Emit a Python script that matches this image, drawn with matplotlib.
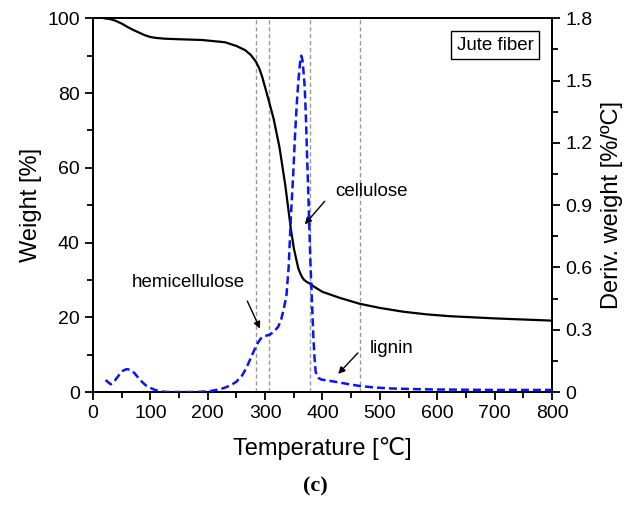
import numpy as np
import matplotlib
matplotlib.use('Agg')
import matplotlib.pyplot as plt
from matplotlib.ticker import MultipleLocator

plt.rcParams['font.family'] = ['Liberation Sans', 'DejaVu Sans']

#%% TGA data for jute fiber
temp_tg = [20, 30, 40, 50, 60, 70, 80, 90, 100, 110, 125, 150, 190, 230, 250,
           265, 275, 284, 290, 295, 300, 306, 315, 325, 335, 345, 350, 355, 358,
           362, 365, 368, 372, 378, 385, 400, 430, 465, 500, 540, 580, 620, 660,
           700, 750, 800]
weight = [100, 99.8, 99.3, 98.6, 97.7, 96.9, 96.2, 95.5, 95.0, 94.75, 94.55,
          94.4, 94.2, 93.6, 92.6, 91.5, 90.2, 88.4, 86.5, 84.3, 81.5, 78.2, 73.0,
          65.5, 55.5, 43.5, 38.5, 35.0, 33.0, 31.5, 30.6, 30.0, 29.5, 29.0, 28.2,
          26.8, 25.2, 23.6, 22.5, 21.5, 20.8, 20.3, 20.0, 19.7, 19.4, 19.1]

temp_dtg = [22, 26, 31, 38, 45, 52, 58, 64, 72, 82, 92, 100, 108, 118, 130, 150,
            180, 204, 215, 227, 240, 250, 260, 268, 276, 285, 290, 294, 300, 308,
            315, 323, 328, 332, 337, 341, 345, 349, 352, 355, 358, 361, 363, 365,
            367, 369, 371, 373, 375, 377, 379, 381, 384, 386, 388, 390, 393, 398,
            410, 425, 445, 465, 490, 520, 560, 600, 650, 700, 750, 800]
deriv = [0.058, 0.048, 0.037, 0.055, 0.08, 0.102, 0.11, 0.108, 0.092, 0.058,
         0.032, 0.02, 0.01, 0.003, 0.0, 0.0, 0.0, 0.004, 0.01, 0.018, 0.032, 0.05,
         0.08, 0.12, 0.17, 0.226, 0.248, 0.263, 0.27, 0.276, 0.29, 0.315, 0.35,
         0.395, 0.46, 0.6, 0.85, 1.05, 1.23, 1.38, 1.5, 1.59, 1.62, 1.6, 1.54,
         1.47, 1.33, 1.15, 0.98, 0.8, 0.62, 0.48, 0.27, 0.17, 0.1, 0.078, 0.068,
         0.06, 0.055, 0.048, 0.038, 0.029, 0.022, 0.017, 0.014, 0.012, 0.011,
         0.01, 0.01, 0.01]

# decomposition stage boundaries
stage_temps = [284, 306, 378, 466]

#%% Plot
fig = plt.figure(figsize=(6.3, 5.19), dpi=100)
ax = fig.add_axes([0.1476, 0.2447, 0.7286, 0.72])
ax2 = ax.twinx()

for t in stage_temps:
    ax.axvline(t, color='#999999', lw=1.0, ls=(0, (3, 2)), zorder=1)

ax.plot(temp_tg, weight, color='black', lw=1.6, zorder=3)
ax2.plot(temp_dtg, deriv, color='#0a14f5', lw=1.8, ls=(0, (3.2, 1.6)), zorder=3)

ax.set_xlim(0, 800)
ax.set_ylim(0, 100)
ax2.set_ylim(0, 1.8)

ax.xaxis.set_major_locator(MultipleLocator(100))
ax.xaxis.set_minor_locator(MultipleLocator(50))
ax.yaxis.set_major_locator(MultipleLocator(20))
ax.yaxis.set_minor_locator(MultipleLocator(10))
ax2.yaxis.set_minor_locator(MultipleLocator(0.15))
ax2.set_yticks(np.arange(0, 1.81, 0.3))
ax2.set_yticklabels(['0', '0.3', '0.6', '0.9', '1.2', '1.5', '1.8'])

for a in (ax, ax2):
    for s in a.spines.values():
        s.set_linewidth(1.4)
ax.tick_params(which='major', direction='out', length=6, width=1.3, labelsize=14)
ax.tick_params(which='minor', direction='out', length=4, width=1.3)
ax.tick_params(axis='x', top=False, which='both')
ax2.tick_params(which='major', direction='out', length=6, width=1.3, labelsize=14)
ax2.tick_params(which='minor', direction='out', length=4, width=1.3)

ax.set_xlabel('Temperature [\u2103]', fontsize=17, labelpad=11)
ax.set_ylabel('Weight [%]', fontsize=17, labelpad=4)
ax2.set_ylabel('Deriv. weight [%/\u00baC]', fontsize=17, labelpad=6)

#%% Annotations
arrow = dict(arrowstyle='-|>', color='black', lw=1.0, mutation_scale=10)
ax.text(167, 29.2, 'hemicellulose', fontsize=13.5, ha='center', va='center')
ax.annotate('', xy=(293, 16.3), xytext=(267, 25.0), arrowprops=arrow)
ax.text(485, 53.6, 'cellulose', fontsize=13.5, ha='center', va='center')
ax.annotate('', xy=(366, 44.3), xytext=(407, 51.6), arrowprops=arrow)
ax.text(520, 11.7, 'lignin', fontsize=13.5, ha='center', va='center')
ax.annotate('', xy=(424, 4.3), xytext=(465, 11.0), arrowprops=arrow)

ax.text(0.876, 0.928, 'Jute fiber', transform=ax.transAxes, fontsize=13.5,
        ha='center', va='center',
        bbox=dict(boxstyle='square,pad=0.3', fc='white', ec='black', lw=1.0))

fig.text(0.5, 0.062, '(c)', fontsize=16, fontweight='bold',
         family='Liberation Serif', ha='center', va='center')

fig.savefig('out.png', dpi=100)
